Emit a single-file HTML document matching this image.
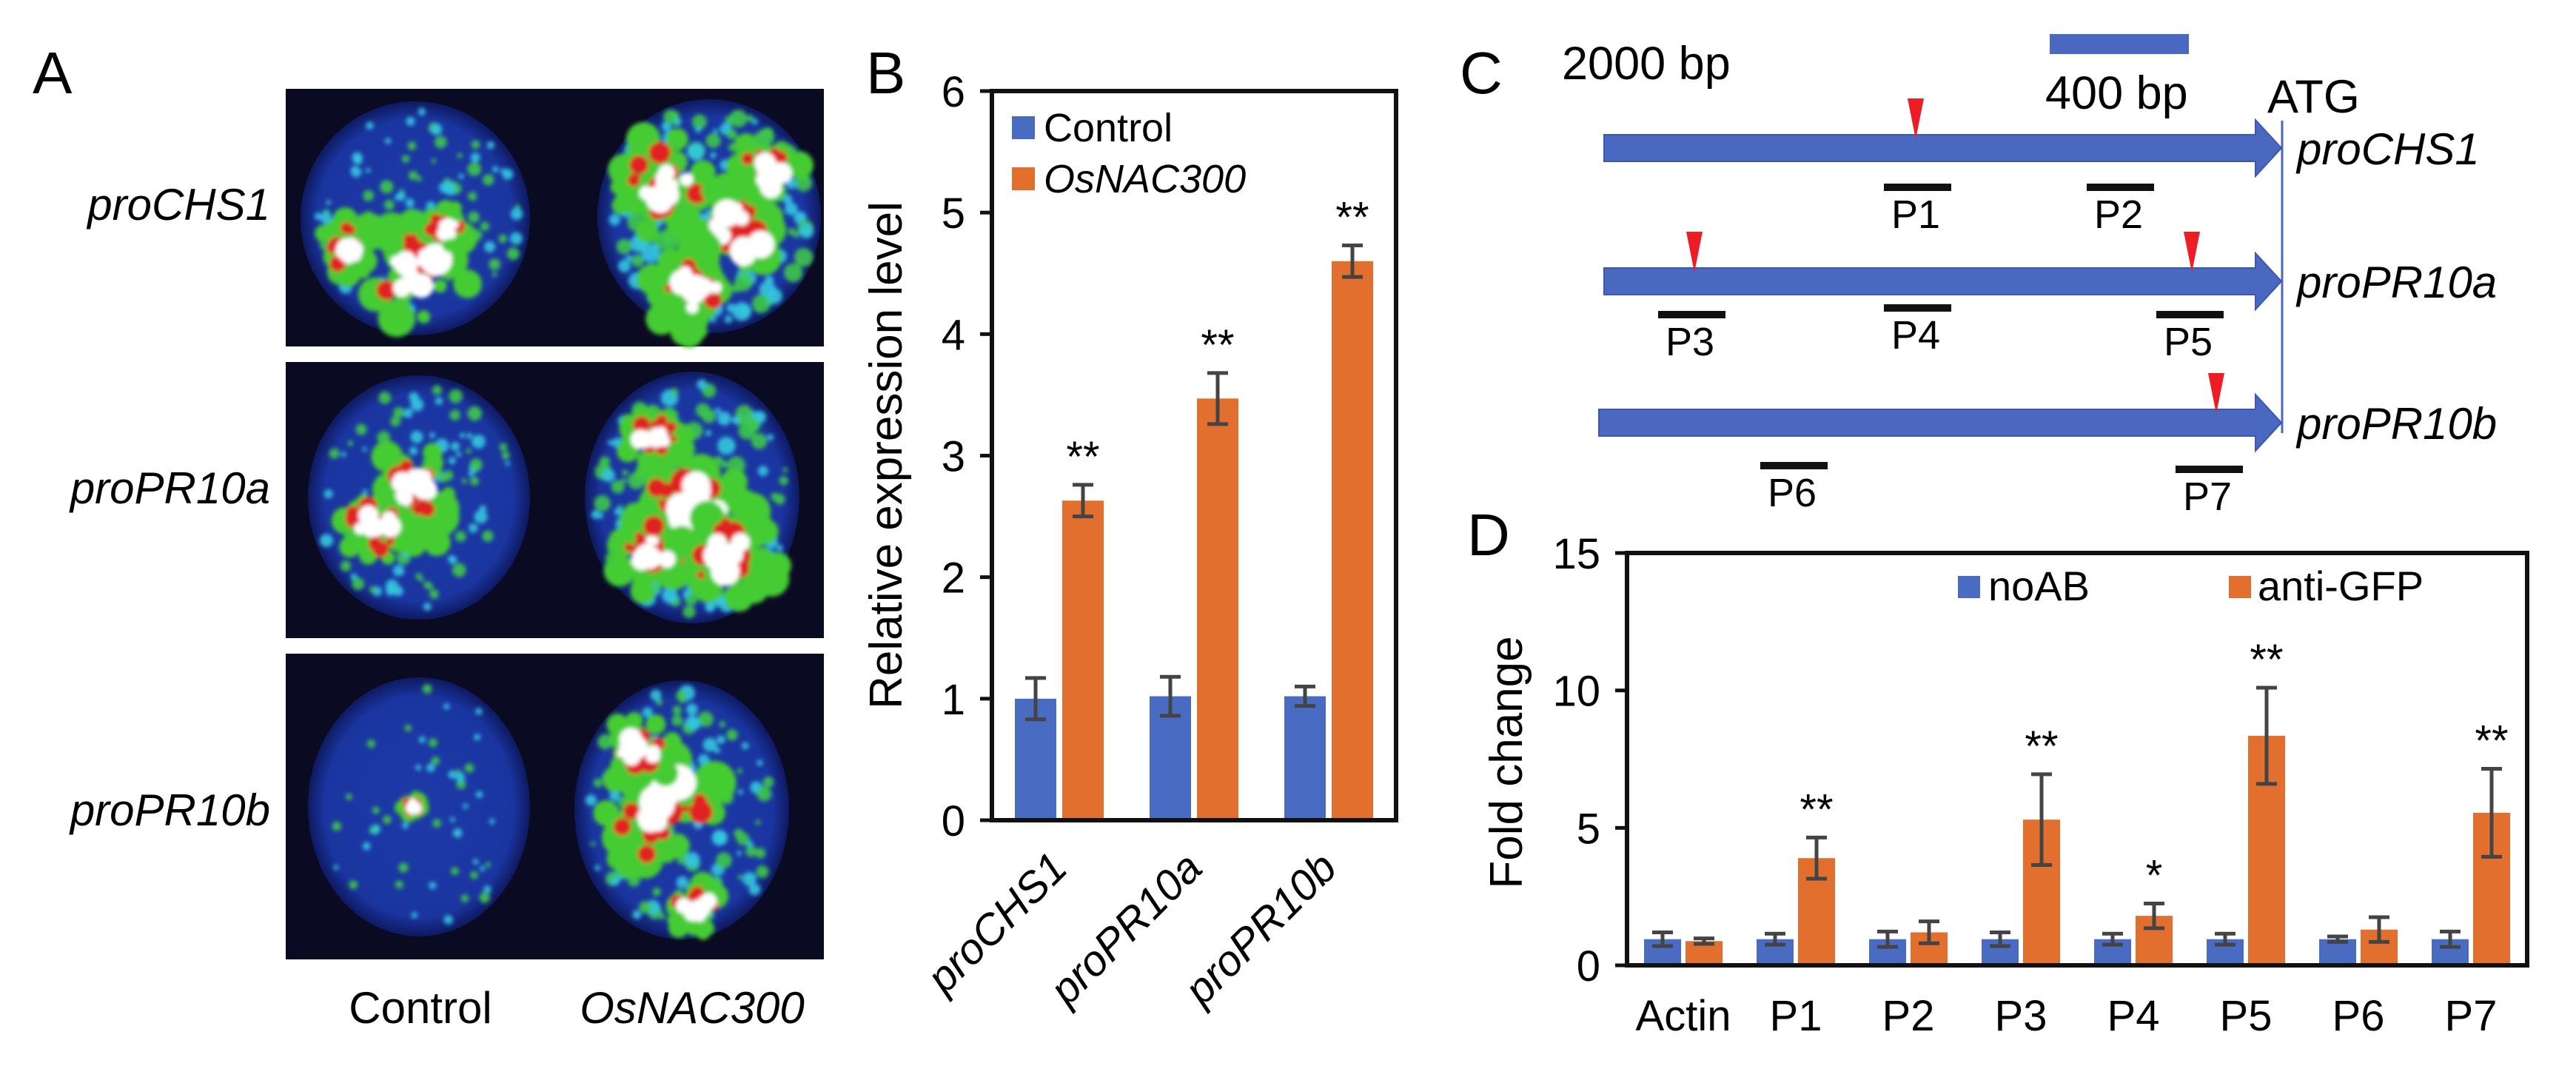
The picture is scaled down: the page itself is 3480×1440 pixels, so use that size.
<!DOCTYPE html>
<html><head><meta charset="utf-8">
<style>
html,body{margin:0;padding:0;background:#fff;}
svg{display:block;font-family:"Liberation Sans",Arial,sans-serif;}
</style></head>
<body>
<svg id="fig" width="3480" height="1440" viewBox="0 0 3480 1440" xmlns="http://www.w3.org/2000/svg">
<defs>
  <radialGradient id="cg" cx="50%" cy="50%" r="50%">
    <stop offset="0" stop-color="#1d3aa8"/>
    <stop offset="0.85" stop-color="#1a35a0"/>
    <stop offset="1" stop-color="#0e1a60"/>
  </radialGradient>
  <filter id="bl" x="-10%" y="-10%" width="120%" height="120%"><feGaussianBlur stdDeviation="3"/></filter>
</defs>

<!-- Panel A -->
<text x="44" y="126" font-size="80">A</text>
<g id="panelA"></g>
<text x="365" y="297" font-size="60" font-style="italic" text-anchor="end">proCHS1</text>
<text x="365" y="680" font-size="60" font-style="italic" text-anchor="end">proPR10a</text>
<text x="365" y="1115" font-size="60" font-style="italic" text-anchor="end">proPR10b</text>
<text x="568" y="1382" font-size="60" text-anchor="middle">Control</text>
<text x="935" y="1382" font-size="60" font-style="italic" text-anchor="middle">OsNAC300</text>

<!-- Panel B -->
<text x="1170" y="126" font-size="80">B</text>
<g id="panelB"></g>

<!-- Panel C -->
<text x="1972" y="126" font-size="80">C</text>
<text x="2110" y="107" font-size="63">2000 bp</text>
<rect x="2769" y="46" width="188" height="27" fill="#4a68c0"/>
<text x="2763" y="147" font-size="63">400 bp</text>
<text x="3063" y="152" font-size="63">ATG</text>
<line x1="3083" y1="163" x2="3083" y2="585" stroke="#4a68c0" stroke-width="3"/>
<g id="panelC"></g>

<!-- Panel D -->
<text x="1982" y="750" font-size="80">D</text>
<g id="panelD"></g>
</svg>

<script>
// ---------- Panel B data ----------
const bCategories = ["proCHS1", "proPR10a", "proPR10b"];
const bControl = [1.0, 1.02, 1.02];
const bControlErr = [0.17, 0.16, 0.08];
const bOsNAC = [2.63, 3.47, 4.6];
const bOsNACErr = [0.13, 0.21, 0.13];
const bStars = ["**", "**", "**"];
const bTicks = [0, 1, 2, 3, 4, 5, 6];

// ---------- Panel D data ----------
const dCategories = ["Actin", "P1", "P2", "P3", "P4", "P5", "P6", "P7"];
const dNoAB = [0.95, 0.95, 0.95, 0.95, 0.95, 0.95, 0.95, 0.95];
const dNoABErr = [0.25, 0.2, 0.28, 0.25, 0.2, 0.2, 0.1, 0.28];
const dAntiGFP = [0.88, 3.9, 1.2, 5.3, 1.8, 8.35, 1.3, 5.55];
const dAntiGFPErr = [0.1, 0.75, 0.4, 1.65, 0.45, 1.75, 0.45, 1.6];
const dStars = ["", "**", "", "**", "*", "**", "", "**"];
const dTicks = [0, 5, 10, 15];

const NS = "http://www.w3.org/2000/svg";
const BLUE = "#4a6bc2", ORANGE = "#e36f2e", ERR = "#444";
function mk(tag, attrs, parent, text) {
  const e = document.createElementNS(NS, tag);
  for (const k in attrs) e.setAttribute(k, attrs[k]);
  if (text !== undefined) e.textContent = text;
  parent.appendChild(e);
  return e;
}

// ---------- generic bar chart ----------
function barChart(g, o) {
  const yS = v => o.y0 - (v - 0) / o.yMax * (o.y0 - o.yTop);
  const cw = (o.xR - o.xL) / o.cats.length;
  const xC = i => o.xL + cw * (i + 0.5);
  // ticks
  o.ticks.forEach(t => {
    const tl = mk("line", {x1: o.xL - 16, x2: o.xL, y1: yS(t), y2: yS(t), stroke: "#111", "stroke-width": 5}, g);
    
    
    const tx = mk("text", {x: o.xL - 36, y: yS(t) + 21, "font-size": 58, "text-anchor": "end"}, g, String(t));
    
    
  });
  // bars
  const series = [[o.s1, o.e1, BLUE, -1], [o.s2, o.e2, ORANGE, 1]];
  o.cats.forEach((c, i) => {
    series.forEach(([vals, errs, col, side], si) => {
      const cx = xC(i) + side * o.off;
      const r = mk("rect", {x: cx - o.bw / 2, y: yS(vals[i]), width: o.bw, height: o.y0 - yS(vals[i]), fill: col}, g);
      
      
      const top = yS(vals[i] + errs[i]), bot = yS(vals[i] - errs[i]);
      const eg = mk("g", {stroke: ERR, "stroke-width": 5}, g);
      
      
      mk("line", {x1: cx, x2: cx, y1: top, y2: bot}, eg);
      mk("line", {x1: cx - 14, x2: cx + 14, y1: top, y2: top}, eg);
      mk("line", {x1: cx - 14, x2: cx + 14, y1: bot, y2: bot}, eg);
      if (si === 1 && o.stars[i]) {
        const st = mk("text", {x: cx, y: top - 18, "font-size": 58, "text-anchor": "middle"}, g, o.stars[i]);
        
        
      }
    });
    let lab;
    if (o.rotLabels) {
      const lx = xC(i) + 14, ly = o.y0 + 68;
      lab = mk("text", {x: lx, y: ly, "font-size": 58, "font-style": "italic", "text-anchor": "end", transform: `rotate(-45 ${lx} ${ly})`}, g, c);
    } else {
      lab = mk("text", {x: xC(i), y: o.y0 + 88, "font-size": 58, "text-anchor": "middle"}, g, c);
    }
    
    
  });
  const box = mk("rect", {x: o.xL, y: o.yTop, width: o.xR - o.xL, height: o.y0 - o.yTop, fill: "none", stroke: "#111", "stroke-width": 6}, g);
  
  
  const yt = mk("text", {x: o.ytX, y: o.ytY, "font-size": 62, "text-anchor": "middle", transform: `rotate(-90 ${o.ytX} ${o.ytY})`}, g, o.yTitle);
  
  
}

barChart(document.getElementById("panelB"), {
  xL: 1340, xR: 1886, yTop: 123, y0: 1108, yMax: 6, ticks: bTicks,
  cats: bCategories, s1: bControl, e1: bControlErr, s2: bOsNAC, e2: bOsNACErr,
  stars: bStars, bw: 56, off: 32, rotLabels: true, n1: "control", n2: "osnac300",
  yTitle: "Relative expression level", ytX: 1218, ytY: 615
});
barChart(document.getElementById("panelD"), {
  xL: 2198, xR: 3414, yTop: 747, y0: 1304, yMax: 15, ticks: dTicks,
  cats: dCategories, s1: dNoAB, e1: dNoABErr, s2: dAntiGFP, e2: dAntiGFPErr,
  stars: dStars, bw: 50, off: 28, rotLabels: false, n1: "noab", n2: "anti-gfp",
  yTitle: "Fold change", ytX: 2056, ytY: 1030
});

// legends
(function(){
  const gb = document.getElementById("panelB");
  const l1 = mk("rect", {x: 1367, y: 157, width: 31, height: 31, fill: BLUE}, gb);
   
  const t1 = mk("text", {x: 1410, y: 191, "font-size": 54}, gb, "Control");
   
  const l2 = mk("rect", {x: 1367, y: 226, width: 31, height: 31, fill: ORANGE}, gb);
   
  const t2 = mk("text", {x: 1410, y: 260, "font-size": 54, "font-style": "italic"}, gb, "OsNAC300");
   
  const gd = document.getElementById("panelD");
  const l3 = mk("rect", {x: 2645, y: 778, width: 30, height: 30, fill: BLUE}, gd);
   
  const t3 = mk("text", {x: 2686, y: 811, "font-size": 56}, gd, "noAB");
   
  const l4 = mk("rect", {x: 3011, y: 778, width: 30, height: 30, fill: ORANGE}, gd);
   
  const t4 = mk("text", {x: 3050, y: 811, "font-size": 56}, gd, "anti-GFP");
   
})();

// ---------- Panel C ----------
const cPromoters = ["proCHS1", "proPR10a", "proPR10b"];
const cArrowY = [200, 380, 571];
const cArrowX0 = [2167, 2167, 2160];
const cTriangles = [[2588, 0], [2289, 1], [2961, 1], [2994, 2]];
const cPrimers = [["P1", 2545, 253, 0], ["P2", 2819, 253, 0], ["P3", 2240, 425, 1], ["P4", 2545, 416, 1], ["P5", 2913, 425, 1], ["P6", 2378, 629, 2], ["P7", 2939, 634, 2]];
(function(){
  const g = document.getElementById("panelC");
  cPromoters.forEach((p, i) => {
    const y = cArrowY[i], x0 = cArrowX0[i];
    const ar = mk("polygon", {points: `${x0},${y-18} 3047,${y-18} 3047,${y-38} 3082,${y} 3047,${y+38} 3047,${y+18} ${x0},${y+18}`, fill: "#4a68c0", stroke: "#3a58b0", "stroke-width": 2}, g);
    
    
    const t = mk("text", {x: 3103, y: y + 22, "font-size": 60, "font-style": "italic"}, g, p);
    
    
  });
  cTriangles.forEach(([x, i]) => {
    const yb = cArrowY[i] - 12;
    const tr = mk("polygon", {points: `${x-11},${yb-55} ${x+11},${yb-55} ${x},${yb}`, fill: "#ee1c25"}, g);
    
    
  });
  cPrimers.forEach(([n, x, y]) => {
    const r = mk("rect", {x: x, y: y - 5, width: 91, height: 10, fill: "#111"}, g);
    
    
    const t = mk("text", {x: x + 43, y: y + 55, "font-size": 54, "text-anchor": "middle"}, g, n);
    
    
  });
})();

// ---------- Panel A images (decorative luminescence) ----------
(function(){
  const g = document.getElementById("panelA");
  const panels = [[120, 468], [489, 862], [883, 1296]];
  // [cx, cy, rx, ry, brightness, hotspots[[dx,dy,r]]]
  const circles = [
    [[561, 295, 155, 158, 0.35, [[0, 60, 80], [-90, 40, 40], [40, 10, 30]]], [958, 292, 151, 158, 0.75, [[-60, -40, 70], [40, 20, 70], [-20, 100, 60], [80, -60, 50]]]],
    [[566, 672, 150, 165, 0.35, [[-10, 0, 70], [-60, 40, 50]]], [935, 672, 145, 170, 0.7, [[-50, -80, 45], [0, 20, 90], [50, 80, 70], [-60, 80, 60]]]],
    [[566, 1090, 150, 175, 0.05, [[-10, 0, 15]]], [921, 1094, 145, 175, 0.5, [[-30, 0, 90], [-60, -80, 50], [20, 130, 40]]]]
  ];
  let seed = 12345;
  const rnd = () => (seed = (seed * 16807) % 2147483647) / 2147483647;
  panels.forEach(([y0, y1], r) => {
    const bg = mk("rect", {x: 386, y: y0, width: 727, height: y1 - y0, fill: "#0a0a22"}, g);
    
    
    circles[r].forEach(([cx, cy, rx, ry, br, hs]) => {
      mk("ellipse", {cx, cy, rx, ry, fill: "url(#cg)"}, g);
      const bg2 = mk("g", {filter: "url(#bl)"}, g);
      // scattered specks
      const nSpeck = Math.round(40 + br * 140);
      for (let k = 0; k < nSpeck; k++) {
        const a = rnd() * 6.283, d = Math.sqrt(rnd()) * 0.92;
        const x = cx + Math.cos(a) * rx * d, y = cy + Math.sin(a) * ry * d;
        const col = rnd() < 0.5 ? "#33c6e0" : "#3fc84a";
        mk("circle", {cx: x, cy: y, r: 3 + rnd() * (4 + br * 8), fill: col, opacity: 0.9}, bg2);
      }
      hs.forEach(([dx, dy, hr]) => {
        const hx = cx + dx, hy = cy + dy;
        for (let k = 0; k < 30; k++) {
          const a = rnd() * 6.283, d = rnd() * hr;
          mk("circle", {cx: hx + Math.cos(a) * d, cy: hy + Math.sin(a) * d, r: 8 + rnd() * hr * 0.25, fill: "#44cc33"}, bg2);
        }
        for (let k = 0; k < 14; k++) {
          const a = rnd() * 6.283, d = rnd() * hr * 0.7;
          mk("circle", {cx: hx + Math.cos(a) * d, cy: hy + Math.sin(a) * d, r: 4 + rnd() * hr * 0.18, fill: "#e02020"}, bg2);
        }
        for (let k = 0; k < 10; k++) {
          const a = rnd() * 6.283, d = rnd() * hr * 0.5;
          mk("circle", {cx: hx + Math.cos(a) * d, cy: hy + Math.sin(a) * d, r: 5 + rnd() * hr * 0.22, fill: "#ffffff"}, bg2);
        }
      });
    });
  });
})();
</script>
</body></html>
